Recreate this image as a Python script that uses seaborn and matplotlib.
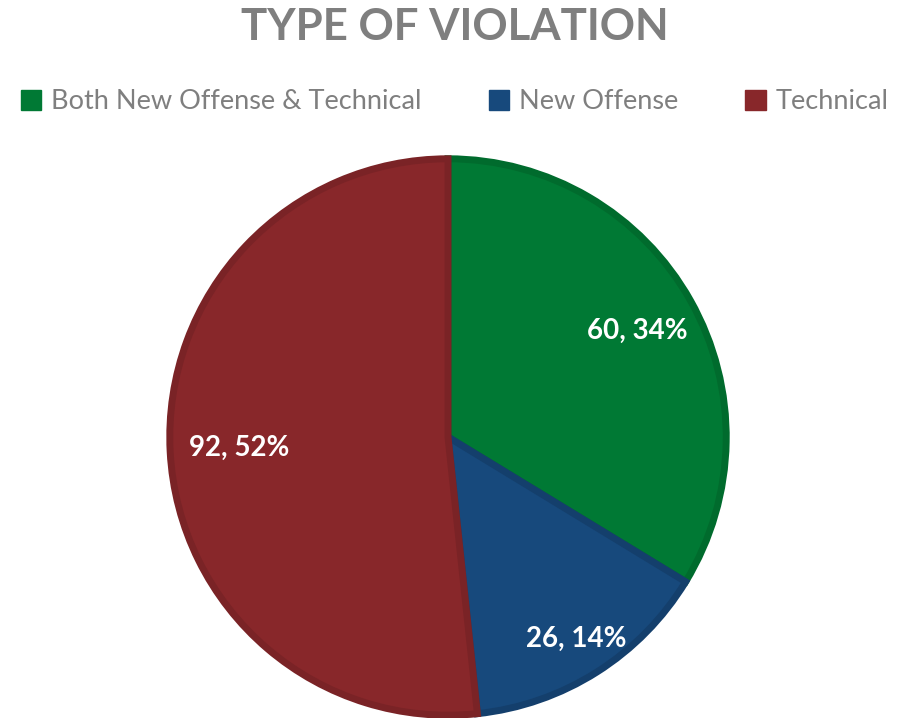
import numpy as np
import matplotlib
matplotlib.use("Agg")
import matplotlib.pyplot as plt
import matplotlib.patches as mpatches
import seaborn as sns

categories = ['Both New Offense & Technical', 'New Offense', 'Technical']
counts = [60, 26, 92]
pct_labels = ['34%', '14%', '52%']
colors = ['#007934', '#17497C', '#88272A']
edge_colors = ['#006B2D', '#143F6C', '#7A2326']
label_dist = [0.78, 0.86, 0.75]

sns.set_theme(style="white")
plt.rcParams['font.family'] = ['Lato', 'DejaVu Sans']

fig = plt.figure(figsize=(9.09, 7.18), dpi=100)
ax = fig.add_axes([167/909, 0.0, 562/909, 562/718])

wedges, _ = ax.pie(counts, colors=colors, startangle=90, counterclock=False,
                   radius=1.0, wedgeprops=dict(linewidth=5))
for w, ec in zip(wedges, edge_colors):
    w.set_edgecolor(ec)

# data labels placed along the middle angle of each wedge
total = sum(counts)
start = 90.0
for c, p, d in zip(counts, pct_labels, label_dist):
    sweep = c / total * 360
    mid = np.deg2rad(start - sweep / 2)
    ax.text(d * np.cos(mid), d * np.sin(mid), f'{c}, {p}', color='white',
            fontsize=20, fontweight='bold', ha='center', va='center')
    start -= sweep

ax.set_xlim(-1.01, 1.01)
ax.set_ylim(-1.01, 1.01)
ax.set_aspect('equal')
ax.axis('off')

fig.text(0.5, 0.963, 'TYPE OF VIOLATION', ha='center', va='center',
         fontsize=31.5, fontweight='bold', color='#7F7F7F')

handles = [mpatches.Patch(color=c, label=l) for c, l in zip(colors, categories)]
fig.legend(handles=handles, loc='center', bbox_to_anchor=(0.5, 0.858), ncol=3,
           frameon=False, fontsize=19.5, labelcolor='#7F7F7F',
           handlelength=0.75, handleheight=0.75, handletextpad=0.35,
           columnspacing=2.5)

fig.savefig('out.png', dpi=100)
